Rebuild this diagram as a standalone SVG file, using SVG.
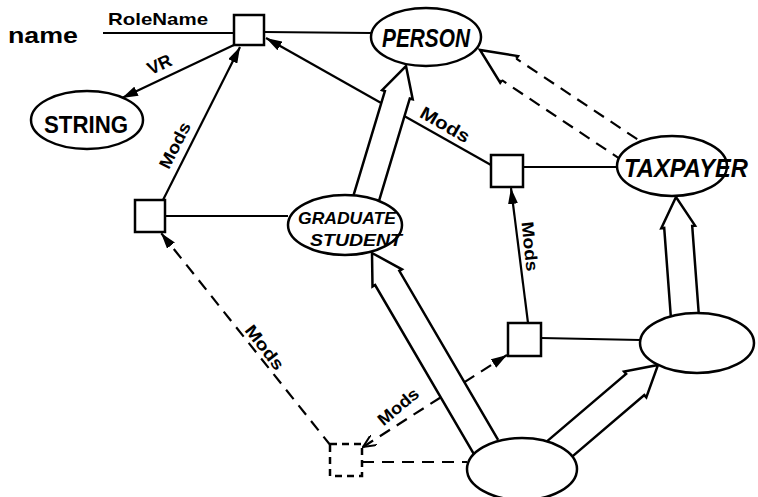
<svg xmlns="http://www.w3.org/2000/svg" width="758" height="497" viewBox="0 0 758 497">
  <style>
    .box { fill: #fff; stroke: #000; stroke-width: 2.5; }
    .dbox { fill: #fff; stroke: #000; stroke-width: 2.5; stroke-dasharray: 7 5; }
    .oval { fill: #fff; stroke: #000; stroke-width: 2.5; }
    .ln { fill: none; stroke: #000; stroke-width: 2.2; }
    .dash { fill: none; stroke: #000; stroke-width: 2.2; stroke-dasharray: 12 8; }
    .fat { fill: #fff; stroke: #000; stroke-width: 2.5; stroke-linejoin: miter; }
    .head { fill: none; stroke: #000; stroke-width: 2.5; }
    .lbl { font-family: "Liberation Sans", Arial, sans-serif; font-weight: bold; fill: #000; }
    .name { font-family: "Liberation Sans", Arial, sans-serif; font-weight: bold; font-style: italic; fill: #000; }
  </style>
  <defs>
    <marker id="solid" viewBox="0 0 16 10" refX="16" refY="5" markerWidth="16" markerHeight="10" markerUnits="userSpaceOnUse" orient="auto">
      <path d="M0,0 L16,5 L0,10 z" fill="#000"/>
    </marker>
    <marker id="open" viewBox="0 0 14 12" refX="13" refY="6" markerWidth="14" markerHeight="12" markerUnits="userSpaceOnUse" orient="auto-start-reverse">
      <path d="M0,0 L13,6 L0,12" fill="none" stroke="#000" stroke-width="2"/>
    </marker>
  </defs>

  <!-- connectors: plain role links first, then the broad subclass arrows drawn over them -->
  <g id="connectors">
    <path class="ln" d="M103,33 H234"/>
    <path class="ln" d="M264,32 L371,33"/>
    <path class="ln" d="M236,44 L122,98" marker-end="url(#solid)"/>
    <path class="ln" d="M163,200 L240,47" marker-end="url(#solid)"/>
    <path class="ln" d="M491,165 L266,38" marker-end="url(#solid)"/>
    <path class="ln" d="M523,167 L617,167"/>
    <path class="ln" d="M165,216 L288,216"/>
    <path class="ln" d="M528,323 L511,188" marker-end="url(#solid)"/>
    <path class="ln" d="M541,338 L640,340"/>
    <path class="dash" d="M331,446 L161,233" marker-end="url(#solid)"/>
    <path class="dash" d="M362,462 L467,462"/>
    <path class="dash" d="M363,447 L507,355" marker-start="url(#open)" marker-end="url(#solid)"/>

    <!-- broad hollow arrows (is-a links) -->
    <path class="fat" d="M378.5,202.7 L409.8,98.5 L412.7,99.3 L406,66 L382.1,90.1 L384.9,91 L353.5,195.3"/>
    <path class="fat" d="M498.1,439.9 L399.3,270.8 L401.9,269.3 L372,253 L372.5,286.5 L375.1,285 L473.9,454.1"/>
    <path class="fat" d="M565.1,462.6 L644.3,395.1 L646.3,397.4 L658,365 L624.1,371.6 L626.1,373.9 L546.9,441.4"/>
    <path class="fat" d="M699,317 L692.2,225.9 L695.1,225.6 L676,197 L661.3,228.2 L664.2,227.9 L671,319"/>

    <!-- dashed broad arrow from TAXPAYER to PERSON -->
    <path class="dash" d="M637.2,139.2 L516.3,58.6"/>
    <path class="dash" d="M622.8,160.8 L501.9,80.2"/>
    <path class="head" d="M516.3,58.6 L518,56.1 L480,50 L500.2,82.7 L501.9,80.2"/>

    <!-- link labels -->
    <text class="lbl" x="8" y="43" font-size="22" textLength="70" lengthAdjust="spacingAndGlyphs">name</text>
    <text class="lbl" x="108" y="25" font-size="17" textLength="100" lengthAdjust="spacingAndGlyphs">RoleName</text>
    <text class="lbl" font-size="18" text-anchor="middle" transform="translate(162,70) rotate(-25)">VR</text>
    <text class="lbl" font-size="17" text-anchor="middle" textLength="50" lengthAdjust="spacingAndGlyphs" transform="translate(180,148) rotate(-63)">Mods</text>
    <text class="lbl" font-size="18" text-anchor="middle" textLength="54" lengthAdjust="spacingAndGlyphs" transform="translate(442,130) rotate(30)">Mods</text>
    <text class="lbl" font-size="17" text-anchor="middle" textLength="50" lengthAdjust="spacingAndGlyphs" transform="translate(524,247) rotate(84)">Mods</text>
    <text class="lbl" font-size="17" text-anchor="middle" textLength="52" lengthAdjust="spacingAndGlyphs" transform="translate(260,351) rotate(52)">Mods</text>
    <text class="lbl" font-size="17" text-anchor="middle" textLength="48" lengthAdjust="spacingAndGlyphs" transform="translate(402,411) rotate(-40)">Mods</text>
  </g>

  <!-- role boxes -->
  <g id="role-name"><rect class="box" x="234" y="15" width="30" height="30"/></g>
  <g id="role-grad"><rect class="box" x="135" y="200" width="30" height="32"/></g>
  <g id="role-tax"><rect class="box" x="491" y="155" width="32" height="32"/></g>
  <g id="role-low"><rect class="box" x="508" y="323" width="33" height="33"/></g>
  <g id="role-dashed"><rect class="dbox" x="330" y="444" width="32" height="32"/></g>

  <!-- concepts -->
  <g id="string">
    <ellipse class="oval" cx="87" cy="120" rx="56" ry="29"/>
    <text class="lbl" x="44" y="133" font-size="24" textLength="84" lengthAdjust="spacingAndGlyphs">STRING</text>
  </g>
  <g id="person">
    <ellipse class="oval" cx="426" cy="37" rx="55" ry="29"/>
    <text class="name" x="382" y="47" font-size="25" textLength="88" lengthAdjust="spacingAndGlyphs">PERSON</text>
  </g>
  <g id="graduate-student">
    <ellipse class="oval" cx="345" cy="225" rx="57" ry="30"/>
    <text class="name" x="298" y="224" font-size="17" textLength="98" lengthAdjust="spacingAndGlyphs">GRADUATE</text>
    <text class="name" x="310" y="246" font-size="17" textLength="92" lengthAdjust="spacingAndGlyphs">STUDENT</text>
  </g>
  <g id="taxpayer">
    <ellipse class="oval" cx="672" cy="166" rx="55" ry="30"/>
    <text class="name" x="624" y="177" font-size="25" textLength="124" lengthAdjust="spacingAndGlyphs">TAXPAYER</text>
  </g>
  <g id="concept-right"><ellipse class="oval" cx="697" cy="343" rx="57" ry="30"/></g>
  <g id="concept-bottom"><ellipse class="oval" cx="522" cy="469" rx="55" ry="31"/></g>
</svg>
